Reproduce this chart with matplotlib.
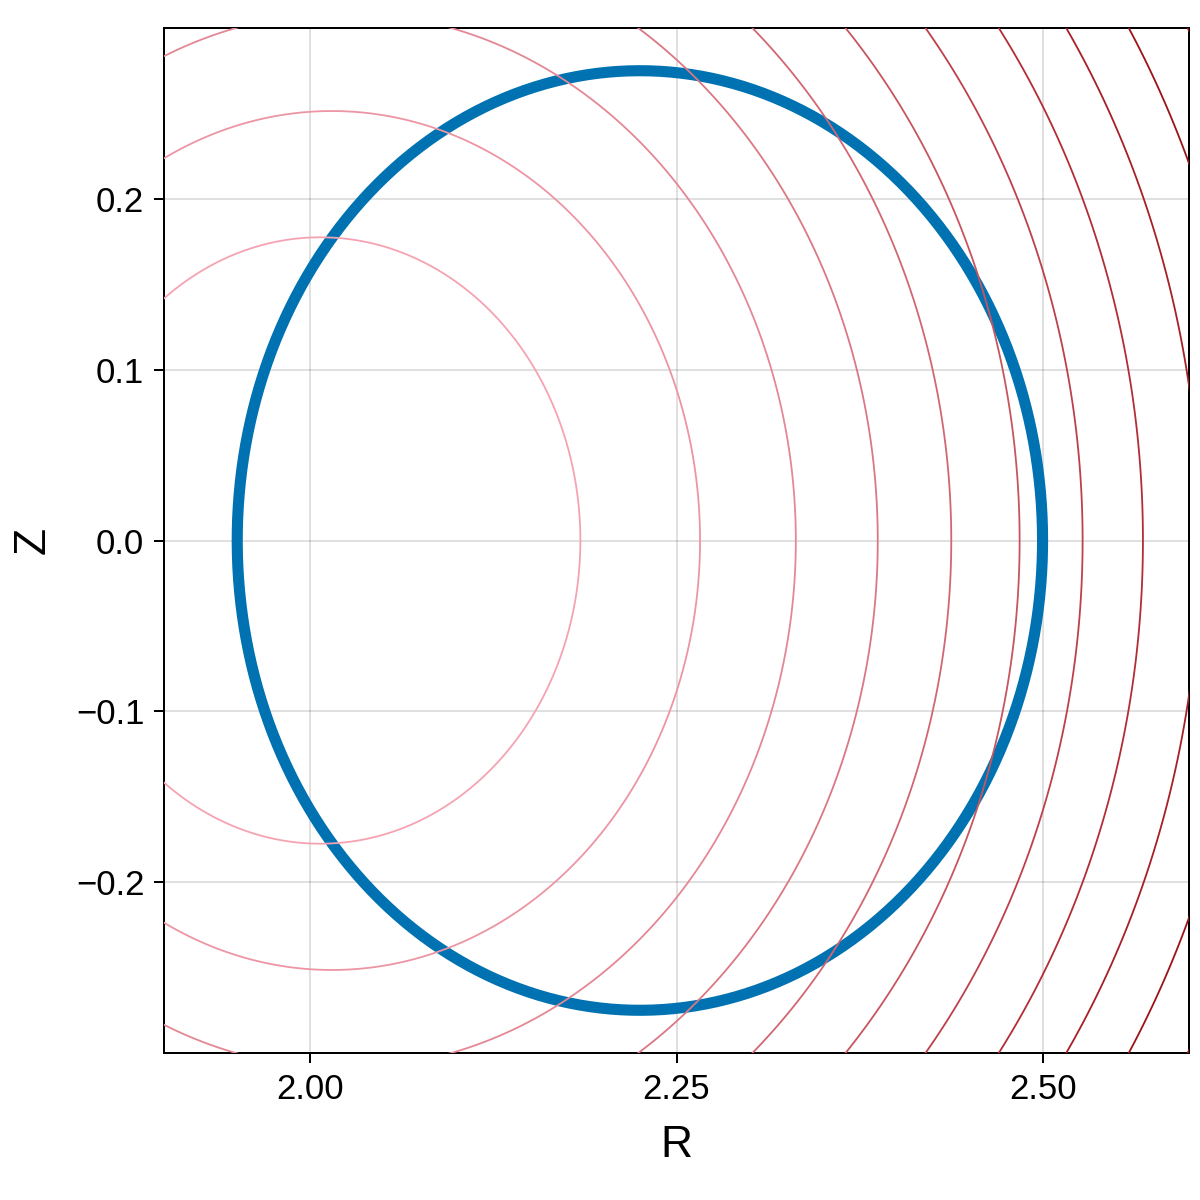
import matplotlib
import matplotlib.pyplot as plt
import numpy as np
from matplotlib.colors import LinearSegmentedColormap
matplotlib.use('Agg')

plt.rcParams['font.family'] = ['Liberation Sans', 'DejaVu Sans']
plt.rcParams['axes.unicode_minus'] = True

# flux surfaces: shifted circles, centre R = axis_r + shift * r^2
axis_r = 1.9991
shift = 0.2465
# contour levels (r^2 of each surface)
levels = [0.0315, 0.0632, 0.0954, 0.1274, 0.1594, 0.1918, 0.2238, 0.2563,
          0.2888, 0.3210, 0.3531]

# blue boundary circle
ring_r0 = 2.225
ring_z0 = 0.0
ring_a = 0.275

x_ticks = [2.00, 2.25, 2.50]
x_ticklabels = ["2.00", "2.25", "2.50"]
y_ticks = [-0.2, -0.1, 0.0, 0.1, 0.2]
y_ticklabels = ["\u22120.2", "\u22120.1", "0.0", "0.1", "0.2"]


def flux(R, Z):
    """
    r^2 of the shifted circle through (R, Z)
    """
    d = R - axis_r
    p = 2 * shift * d + 1
    disc = np.sqrt(np.maximum(p * p - 4 * shift ** 2 * (d * d + Z * Z), 0))
    return (p - disc) / (2 * shift ** 2)


def plot_surfaces():
    fig = plt.figure(figsize=(12, 12), dpi=100)
    ax = fig.add_axes([164 / 1200, 1 - 1053 / 1200, 1025 / 1200, 1025 / 1200])

    R = np.linspace(1.85, 2.65, 800)
    Z = np.linspace(-0.35, 0.35, 700)
    RR, ZZ = np.meshgrid(R, Z)
    psi = flux(RR, ZZ)

    cmap = LinearSegmentedColormap.from_list(
        "pinkred", ["#f5a3b3", "#e08490", "#cc5f6a", "#b5303a", "#9c1218"])
    ax.contour(RR, ZZ, psi, levels=levels, cmap=cmap,
               vmin=levels[0], vmax=levels[-2], linewidths=1.3, zorder=3)

    theta = np.linspace(0, 2 * np.pi, 720)
    ax.plot(ring_r0 + ring_a * np.cos(theta), ring_z0 + ring_a * np.sin(theta),
            color="#0072b2", lw=8.0, zorder=2, solid_capstyle='round')

    ax.set_xlim(1.9, 2.6)
    ax.set_ylim(-0.3, 0.3)
    ax.set_xticks(x_ticks)
    ax.set_xticklabels(x_ticklabels)
    ax.set_yticks(y_ticks)
    ax.set_yticklabels(y_ticklabels)
    ax.tick_params(labelsize=25, length=7.2, width=1.44, pad=7)
    ax.grid(True, color='black', alpha=0.12, lw=1.44, zorder=0)
    ax.set_axisbelow(True)
    for sp in ax.spines.values():
        sp.set_linewidth(1.44)

    ax.set_xlabel("R", fontsize=32, labelpad=14)
    ax.set_ylabel("Z", fontsize=32, labelpad=16)

    plt.savefig("out.png", dpi=100)


plot_surfaces()
